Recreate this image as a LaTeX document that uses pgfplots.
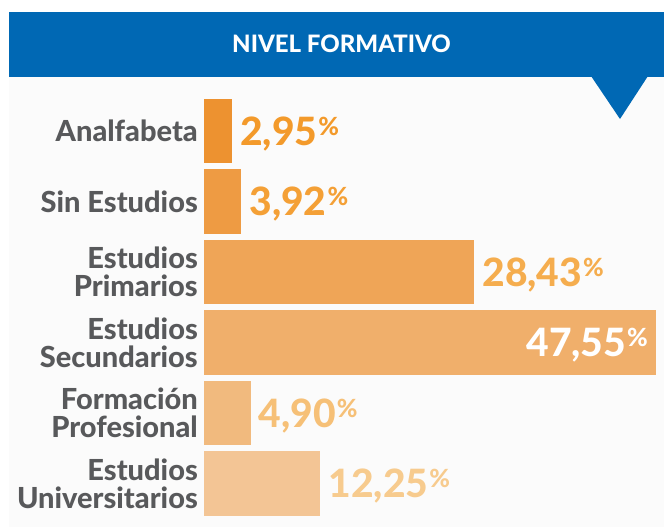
\documentclass[border=0pt]{standalone}
\usepackage{fontspec}
\setmainfont{Lato}[BoldFont={Lato Heavy}]
\usepackage{pgfplots}
\pgfplotsset{compat=1.18}
\definecolor{hdr}{HTML}{0068B4}
\definecolor{bgc}{HTML}{FBFBFB}
\definecolor{lab}{HTML}{58595B}
\definecolor{c1}{HTML}{ED9230}
\definecolor{c2}{HTML}{EE9B43}
\definecolor{c3}{HTML}{EFA557}
\definecolor{c4}{HTML}{F0AF6B}
\definecolor{c5}{HTML}{F1BA7E}
\definecolor{c6}{HTML}{F3C595}
\definecolor{v1}{HTML}{F39A2B}
\definecolor{v2}{HTML}{F4A036}
\definecolor{v3}{HTML}{F5AD4E}
\definecolor{v5}{HTML}{F6C077}
\definecolor{v6}{HTML}{F7CB8E}
\newcommand{\pct}{\hspace{1pt}\raisebox{10pt}{\fontsize{25}{25}\selectfont\%}}
\begin{document}
\begin{tikzpicture}
\path[use as bounding box] (0pt,0pt) rectangle (664pt,-527pt);
\fill[white] (0pt,0pt) rectangle (664pt,-527pt);
\fill[bgc] (9pt,-77pt) rectangle (664pt,-527pt);
\fill[hdr] (9pt,-12pt) rectangle (664pt,-77pt);
\fill[hdr] (591pt,-76pt) -- (648pt,-76pt) -- (620pt,-119pt) -- cycle;
\node[text=white, font=\bfseries\fontsize{24}{24}\selectfont] at (341.5pt,-44pt) {NIVEL FORMATIVO};
\begin{axis}[
  at={(204pt,-95.75pt)}, anchor=north west,
  scale only axis, width=452pt, height=423pt,
  xmin=0, xmax=47.55, ymin=-0.5, ymax=5.5, y dir=reverse,
  xbar, bar width=0.92, bar shift=0pt, clip=false,
  axis line style={draw=none}, xtick=\empty, major tick length=0pt,
  ytick={0,1,2,3,4,5},
  yticklabels={Analfabeta, Sin Estudios, {Estudios\\Primarios}, {Estudios\\Secundarios}, {Formación\\Profesional}, {Estudios\\Universitarios}},
  yticklabel style={align=right, font=\bfseries\fontsize{29}{28}\selectfont, text=lab, inner sep=0pt, xshift=-6pt},
  nodes near coords={\pgfmathprintnumber[fixed, fixed zerofill, precision=2, use comma, assume math mode=true]{\pgfplotspointmeta}\pct},
  every node near coord/.append style={font=\bfseries\fontsize{39}{39}\selectfont, inner sep=0pt, xshift=8pt, yshift=-3pt},
]
\addplot[fill=c1, draw=none, every node near coord/.append style={text=v1}] coordinates {(2.95,0)};
\addplot[fill=c2, draw=none, every node near coord/.append style={text=v2}] coordinates {(3.92,1)};
\addplot[fill=c3, draw=none, every node near coord/.append style={text=v3}] coordinates {(28.43,2)};
\addplot[fill=c4, draw=none, every node near coord/.append style={text=white, anchor=east, xshift=-16pt}] coordinates {(47.55,3)};
\addplot[fill=c5, draw=none, every node near coord/.append style={text=v5}] coordinates {(4.90,4)};
\addplot[fill=c6, draw=none, every node near coord/.append style={text=v6}] coordinates {(12.25,5)};
\end{axis}
\end{tikzpicture}
\end{document}
